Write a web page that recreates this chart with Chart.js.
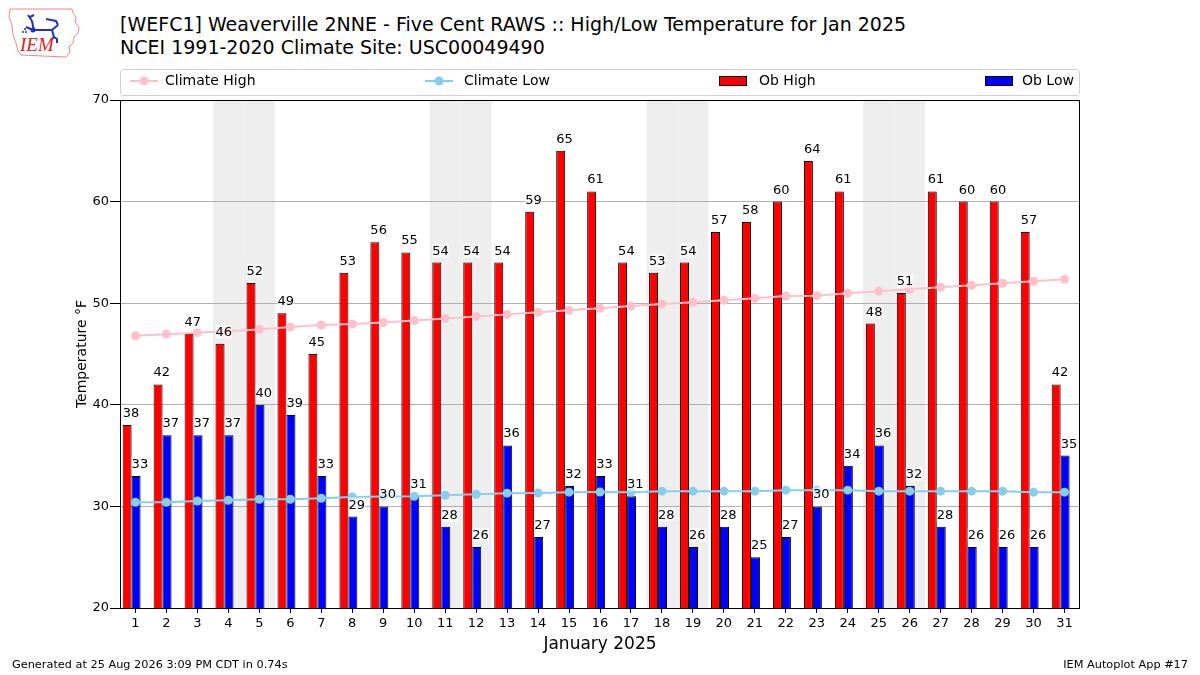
<!DOCTYPE html>
<html>
<head>
<meta charset="utf-8">
<script src="https://cdn.jsdelivr.net/npm/chart.js@4.4.1/dist/chart.umd.min.js"></script>
<style>
  html, body { margin: 0; padding: 0; background: #ffffff; }
  body { width: 1200px; height: 675px; position: relative; overflow: hidden; font-family: "DejaVu Sans", sans-serif; color: #000; }
  #chart { position: absolute; left: 0; top: 0; }
  .t { position: absolute; white-space: nowrap; }
  #title1 { left: 120px; top: 11px; font-size: 19px; line-height: 26px; }
  #title2 { left: 120px; top: 34px; font-size: 19px; line-height: 26px; }
  #foot1 { left: 12px; top: 657px; font-size: 11.3px; line-height: 16px; }
  #foot2 { right: 12px; top: 657px; font-size: 11.3px; line-height: 16px; }
  #logo { position: absolute; left: 6px; top: 5px; }
</style>
</head>
<body>
<svg id="logo" width="76" height="54" viewBox="0 0 76 54">
  <path d="M4 4 L66 4 L67 8 L70 12 L69 17 L73 22 L72 28 L68 32 L67 38 L63 42 L64 47 L60 52 L15 50 L12 46 L10 38 L7 30 L6 20 L3 12 Z" fill="none" stroke="#e88" stroke-width="1"/>
  <path d="M22 10 L26 16 M24 12 L28 10 M26 16 L28 26 M20 22 L27 25 L46 25 L52 20 M40 14 L50 16 L52 20 M46 25 L48 32 M48 32 L46 34 M48 32 L51 34 L51 38" fill="none" stroke="#2233bb" stroke-width="2"/>
  <circle cx="27" cy="25" r="2.5" fill="#2233bb"/>
  <circle cx="20" cy="27" r="1" fill="#2233bb"/><circle cx="17" cy="27" r="1" fill="#2233bb"/><circle cx="19" cy="24" r="1" fill="#2233bb"/>
  <text x="14" y="46" font-family="Liberation Serif, serif" font-style="italic" font-size="19" fill="#dd2222">IEM</text>
</svg>
<div class="t" id="title1">[WEFC1] Weaverville 2NNE - Five Cent RAWS :: High/Low Temperature for Jan 2025</div>
<div class="t" id="title2">NCEI 1991-2020 Climate Site: USC00049490</div>
<canvas id="chart" width="1200" height="675"></canvas>
<div class="t" id="foot1">Generated at 25 Aug 2026 3:09 PM CDT in 0.74s</div>
<div class="t" id="foot2">IEM Autoplot App #17</div>
<script>
const days = [1,2,3,4,5,6,7,8,9,10,11,12,13,14,15,16,17,18,19,20,21,22,23,24,25,26,27,28,29,30,31];
const obHigh = [38,42,47,46,52,49,45,53,56,55,54,54,54,59,65,61,54,53,54,57,58,60,64,61,48,51,61,60,60,57,42];
const obLow = [33,37,37,37,40,39,33,29,30,31,28,26,36,27,32,33,31,28,26,28,25,27,30,34,36,32,28,26,26,26,35];
const climateHigh = [46.8,46.95,47.1,47.27,47.4,47.65,47.85,47.95,48.1,48.3,48.5,48.7,48.9,49.1,49.3,49.5,49.72,49.92,50.09,50.28,50.48,50.71,50.74,50.97,51.17,51.37,51.56,51.76,51.96,52.16,52.35];
const climateLow = [30.4,30.4,30.53,30.6,30.7,30.7,30.8,30.93,30.97,31.0,31.1,31.2,31.3,31.32,31.4,31.42,31.4,31.5,31.5,31.5,31.5,31.6,31.6,31.6,31.5,31.5,31.5,31.5,31.5,31.4,31.4];
const weekendDays = [4,5,11,12,18,19,25,26];
const yMin = 20, yMax = 70, yStep = 10;

const FONT = "DejaVu Sans";
const highShift = 0.27;   // high bar sits left of the day tick
const lowShift = -0.02;   // low bar sits just right of the day tick

const weekendPlugin = {
  id: 'weekend',
  beforeDraw(chart) {
    const {ctx, chartArea, scales} = chart;
    ctx.save();
    ctx.fillStyle = '#eeeeee';
    weekendDays.forEach(d => {
      const x0 = scales.x.getPixelForValue(d - 0.5);
      const x1 = scales.x.getPixelForValue(d + 0.5);
      ctx.fillRect(x0, chartArea.top, x1 - x0, chartArea.bottom - chartArea.top);
    });
    ctx.restore();
  }
};

const labelPlugin = {
  id: 'barlabels',
  afterDatasetsDraw(chart) {
    const ctx = chart.ctx;
    ctx.save();
    ctx.font = '13px "' + FONT + '"';
    ctx.textAlign = 'left';
    ctx.textBaseline = 'alphabetic';
    chart.data.datasets.forEach((ds, i) => {
      if (ds.type !== 'bar') return;
      const meta = chart.getDatasetMeta(i);
      meta.data.forEach((el, j) => {
        const txt = String(ds.data[j].y);
        const x = el.x - el.width / 2;
        const y = el.y - 8;
        const w = ctx.measureText(txt).width;
        ctx.fillStyle = 'rgba(255,255,255,0.6)';
        ctx.fillRect(x, y - 11, w, 14);
        ctx.fillStyle = '#000';
        ctx.fillText(txt, x, y);
      });
    });
    ctx.restore();
  }
};

const framePlugin = {
  id: 'frame',
  afterDraw(chart) {
    const {ctx, chartArea} = chart;
    ctx.save();
    ctx.strokeStyle = '#000';
    ctx.lineWidth = 1;
    ctx.strokeRect(Math.round(chartArea.left) + 0.5, Math.round(chartArea.top) + 0.5,
      Math.round(chartArea.right - chartArea.left) - 1, Math.round(chartArea.bottom - chartArea.top));
    // legend
    const lx = 120.5, ly = 69.5, lw = 959, lh = 26, r = 3;
    ctx.beginPath();
    ctx.moveTo(lx + r, ly);
    ctx.lineTo(lx + lw - r, ly); ctx.quadraticCurveTo(lx + lw, ly, lx + lw, ly + r);
    ctx.lineTo(lx + lw, ly + lh - r); ctx.quadraticCurveTo(lx + lw, ly + lh, lx + lw - r, ly + lh);
    ctx.lineTo(lx + r, ly + lh); ctx.quadraticCurveTo(lx, ly + lh, lx, ly + lh - r);
    ctx.lineTo(lx, ly + r); ctx.quadraticCurveTo(lx, ly, lx + r, ly);
    ctx.closePath();
    ctx.fillStyle = 'rgba(255,255,255,0.8)';
    ctx.fill();
    ctx.strokeStyle = '#d0d0d0';
    ctx.stroke();
    const cy = 81;
    ctx.font = '14px "' + FONT + '"';
    ctx.textBaseline = 'middle';
    ctx.textAlign = 'left';
    const lineItem = (x, color, label, tx) => {
      ctx.strokeStyle = color; ctx.lineWidth = 2;
      ctx.beginPath(); ctx.moveTo(x, cy); ctx.lineTo(x + 28, cy); ctx.stroke();
      ctx.fillStyle = color;
      ctx.beginPath(); ctx.arc(x + 14, cy, 4.5, 0, Math.PI * 2); ctx.fill();
      ctx.fillStyle = '#000'; ctx.fillText(label, tx, cy + 0.5);
    };
    const rectItem = (x, color, label, tx) => {
      ctx.fillStyle = color; ctx.fillRect(x, 76.5, 27, 9);
      ctx.strokeStyle = '#000'; ctx.lineWidth = 1; ctx.strokeRect(x + 0.5, 76.5, 27, 9);
      ctx.fillStyle = '#000'; ctx.fillText(label, tx, cy + 0.5);
    };
    lineItem(130, chart.data.datasets[2].borderColor, chart.data.datasets[2].label, 165);
    lineItem(425, chart.data.datasets[3].borderColor, chart.data.datasets[3].label, 464);
    rectItem(719, chart.data.datasets[0].backgroundColor, chart.data.datasets[0].label, 759);
    rectItem(985, chart.data.datasets[1].backgroundColor, chart.data.datasets[1].label, 1022);
    ctx.restore();
  }
};

const toXY = arr => days.map((d, i) => ({x: d, y: arr[i]}));
const dayTicks = axis => { axis.ticks = days.map(d => ({value: d})); };
const hiddenAxis = shift => ({
  type: 'linear', display: false, offset: false, grid: { offset: false },
  min: 0.5 + shift, max: 31.5 + shift, afterBuildTicks: dayTicks
});

new Chart(document.getElementById('chart'), {
  type: 'bar',
  data: {
    datasets: [
      { type: 'bar', label: 'Ob High', data: toXY(obHigh), xAxisID: 'xhigh', grouped: false, backgroundColor: '#ff0000', borderColor: '#000', borderWidth: 1, categoryPercentage: 0.29, barPercentage: 1, order: 2 },
      { type: 'bar', label: 'Ob Low', data: toXY(obLow), xAxisID: 'xlow', grouped: false, backgroundColor: '#0000ff', borderColor: '#000', borderWidth: 1, categoryPercentage: 0.29, barPercentage: 1, order: 2 },
      { type: 'line', label: 'Climate High', data: toXY(climateHigh), xAxisID: 'x', borderColor: '#ffc0cb', backgroundColor: '#ffc0cb', borderWidth: 2, pointRadius: 4.5, pointBorderWidth: 0, pointBackgroundColor: '#ffc0cb', tension: 0, order: 1 },
      { type: 'line', label: 'Climate Low', data: toXY(climateLow), xAxisID: 'x', borderColor: '#87ceeb', backgroundColor: '#87ceeb', borderWidth: 2, pointRadius: 4.5, pointBorderWidth: 0, pointBackgroundColor: '#87ceeb', tension: 0, order: 1 }
    ]
  },
  options: {
    responsive: false,
    animation: false,
    devicePixelRatio: 1,
    layout: { padding: { top: 100, right: 120, left: 70, bottom: 15 } },
    plugins: { legend: { display: false }, tooltip: { enabled: false } },
    scales: {
      x: {
        type: 'linear', position: 'bottom', min: 0.5, max: 31.5, offset: false,
        afterBuildTicks: dayTicks,
        afterFit: s => { s.height = 52; },
        grid: { offset: false, drawOnChartArea: false, drawTicks: true, tickLength: 5, tickColor: '#000' },
        border: { display: false },
        ticks: { autoSkip: false, maxRotation: 0, color: '#000', font: { family: FONT, size: 13 }, padding: 3 },
        title: { display: true, text: 'January 2025', color: '#000', font: { family: FONT, size: 17 }, padding: { top: 2, bottom: 5 } }
      },
      xhigh: hiddenAxis(highShift),
      xlow: hiddenAxis(lowShift),
      y: {
        min: yMin, max: yMax,
        afterFit: s => { s.width = 50; },
        grid: { color: '#b0b0b0', drawTicks: true, tickLength: 10, tickColor: '#000' },
        border: { display: false },
        ticks: { stepSize: yStep, color: '#000', font: { family: FONT, size: 13 }, padding: 1 },
        title: { display: true, text: 'Temperature °F', color: '#000', font: { family: FONT, size: 14 }, padding: { top: 4, bottom: 0 } }
      }
    }
  },
  plugins: [weekendPlugin, labelPlugin, framePlugin]
});
</script>
</body>
</html>
